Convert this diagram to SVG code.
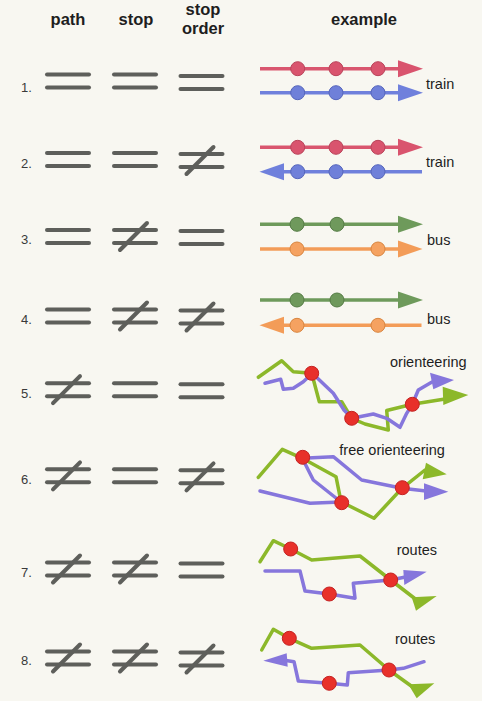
<svg xmlns="http://www.w3.org/2000/svg" xmlns:xlink="http://www.w3.org/1999/xlink" width="482" height="701" viewBox="0 0 482 701">
  <style>
    .head { font-family: "Liberation Sans", Arial, sans-serif; font-weight: bold; font-size: 16.5px; fill: #1e1e1e; text-anchor: middle; }
    .num { font-family: "Liberation Sans", Arial, sans-serif; font-size: 13px; fill: #3a3a3a; }
    .tag { font-family: "Liberation Sans", Arial, sans-serif; font-size: 14.5px; fill: #1e1e1e; }
    .bar { stroke: #5e5f5b; stroke-width: 4; stroke-linecap: round; fill: none; }
    .straight { stroke-width: 3.5; fill: none; }
    .route { stroke-width: 3.5; fill: none; stroke-linejoin: round; stroke-linecap: round; }
    .red { stroke: #d9566f; } .redf { fill: #d9546e; stroke: #b9445a; stroke-width: 1; }
    .blue { stroke: #6f80dc; } .bluef { fill: #6f80d9; stroke: #5565bb; stroke-width: 1; }
    .grn { stroke: #6e9a5b; } .grnf { fill: #6f995c; stroke: #557c45; stroke-width: 1; }
    .org { stroke: #f39c58; } .orgf { fill: #f5a261; stroke: #d8853f; stroke-width: 1; }
    .lime { stroke: #8cb82a; } .limef { fill: #8cb82a; }
    .purp { stroke: #8676dc; } .purpf { fill: #8676dc; }
    .stopdot { fill: #e8302a; stroke: #c42222; stroke-width: 1; }
  </style>
  <defs>
    <g id="eq">
      <line class="bar" x1="-21" y1="-6.5" x2="21" y2="-6.5"/>
      <line class="bar" x1="-21" y1="6.5" x2="21" y2="6.5"/>
    </g>
    <g id="neq">
      <use xlink:href="#eq"/>
      <line class="bar" x1="-15" y1="13.5" x2="12" y2="-13.5"/>
    </g>
  </defs>

  <rect width="482" height="701" fill="#f8f7f1"/>

  <!-- column headings -->
  <g id="headings">
    <text class="head" x="68" y="25">path</text>
    <text class="head" x="136" y="25">stop</text>
    <text class="head" x="203" y="15">stop</text>
    <text class="head" x="203" y="34">order</text>
    <text class="head" x="364" y="25">example</text>
  </g>

  <!-- comparison rows: path / stop / stop order -->
  <g id="row1">
    <text class="num" x="21" y="92">1.</text>
    <use xlink:href="#eq" x="68" y="81"/>
    <use xlink:href="#eq" x="135" y="81"/>
    <use xlink:href="#eq" x="201.5" y="82.5"/>
  </g>
  <g id="row2">
    <text class="num" x="21" y="168">2.</text>
    <use xlink:href="#eq" x="68" y="159.5"/>
    <use xlink:href="#eq" x="135" y="159.5"/>
    <use xlink:href="#neq" x="201.5" y="160.5"/>
  </g>
  <g id="row3">
    <text class="num" x="21" y="244">3.</text>
    <use xlink:href="#eq" x="68" y="236.5"/>
    <use xlink:href="#neq" x="135" y="236.5"/>
    <use xlink:href="#eq" x="201.5" y="237.5"/>
  </g>
  <g id="row4">
    <text class="num" x="21" y="324">4.</text>
    <use xlink:href="#eq" x="68" y="316"/>
    <use xlink:href="#neq" x="135" y="316"/>
    <use xlink:href="#neq" x="201.5" y="317"/>
  </g>
  <g id="row5">
    <text class="num" x="21" y="398">5.</text>
    <use xlink:href="#neq" x="68" y="389.7"/>
    <use xlink:href="#eq" x="135" y="389.7"/>
    <use xlink:href="#eq" x="201.5" y="390.7"/>
  </g>
  <g id="row6">
    <text class="num" x="21" y="484">6.</text>
    <use xlink:href="#neq" x="68" y="475.8"/>
    <use xlink:href="#eq" x="135" y="475.8"/>
    <use xlink:href="#neq" x="201.5" y="476.8"/>
  </g>
  <g id="row7">
    <text class="num" x="21" y="577">7.</text>
    <use xlink:href="#neq" x="68" y="569"/>
    <use xlink:href="#neq" x="135" y="569"/>
    <use xlink:href="#eq" x="201.5" y="570"/>
  </g>
  <g id="row8">
    <text class="num" x="21" y="665">8.</text>
    <use xlink:href="#neq" x="68" y="658"/>
    <use xlink:href="#neq" x="135" y="658"/>
    <use xlink:href="#neq" x="201.5" y="659"/>
  </g>

  <!-- examples -->
  <g id="ex1">
    <line class="straight red" x1="260" y1="68.7" x2="400" y2="68.7"/>
    <polygon fill="#d9546e" points="398,60.2 423,68.7 398,77.2"/>
    <circle class="redf" cx="297.7" cy="68.7" r="7"/>
    <circle class="redf" cx="336" cy="68.7" r="7"/>
    <circle class="redf" cx="378" cy="68.7" r="7"/>
    <line class="straight blue" x1="260" y1="92.7" x2="400" y2="92.7"/>
    <polygon fill="#6f80dc" points="398,84.2 423,92.7 398,101.2"/>
    <circle class="bluef" cx="297.7" cy="92.7" r="7"/>
    <circle class="bluef" cx="336" cy="92.7" r="7"/>
    <circle class="bluef" cx="378" cy="92.7" r="7"/>
    <text class="tag" x="426" y="89">train</text>
  </g>
  <g id="ex2">
    <line class="straight red" x1="260" y1="147.3" x2="400" y2="147.3"/>
    <polygon fill="#d9546e" points="398,138.8 423,147.3 398,155.8"/>
    <circle class="redf" cx="297.7" cy="147.3" r="7"/>
    <circle class="redf" cx="336" cy="147.3" r="7"/>
    <circle class="redf" cx="378" cy="147.3" r="7"/>
    <line class="straight blue" x1="282" y1="171.7" x2="422" y2="171.7"/>
    <polygon fill="#6f80dc" points="284,163.2 259.5,171.7 284,180.2"/>
    <circle class="bluef" cx="297.7" cy="171.7" r="7"/>
    <circle class="bluef" cx="336" cy="171.7" r="7"/>
    <circle class="bluef" cx="378" cy="171.7" r="7"/>
    <text class="tag" x="426" y="167">train</text>
  </g>
  <g id="ex3">
    <line class="straight grn" x1="260" y1="224.3" x2="400" y2="224.3"/>
    <polygon fill="#6e9a5b" points="398,215.8 423,224.3 398,232.8"/>
    <circle class="grnf" cx="297" cy="224.3" r="7"/>
    <circle class="grnf" cx="337" cy="224.3" r="7"/>
    <line class="straight org" x1="260" y1="249" x2="400" y2="249"/>
    <polygon fill="#f39c58" points="398,240.5 422.5,249 398,257.5"/>
    <circle class="orgf" cx="297" cy="249" r="7"/>
    <circle class="orgf" cx="378" cy="249" r="7"/>
    <text class="tag" x="427" y="245">bus</text>
  </g>
  <g id="ex4">
    <line class="straight grn" x1="260" y1="300" x2="400" y2="300"/>
    <polygon fill="#6e9a5b" points="398,291.5 423,300 398,308.5"/>
    <circle class="grnf" cx="297" cy="300" r="7"/>
    <circle class="grnf" cx="337" cy="300" r="7"/>
    <line class="straight org" x1="282" y1="325.3" x2="421.5" y2="325.3"/>
    <polygon fill="#f39c58" points="284,316.8 259.5,325.3 284,333.8"/>
    <circle class="orgf" cx="297" cy="325.3" r="7"/>
    <circle class="orgf" cx="378" cy="325.3" r="7"/>
    <text class="tag" x="427" y="324">bus</text>
  </g>
  <g id="ex5">
    <polyline class="route lime" points="258.3,377.3 281.7,360.7 293.3,371.7 311.7,373.3 319.3,401.7 341.7,401.7 351.7,418.3 365,424 388.3,430 386.7,410.5 412.3,404.3 445,399"/>
    <polygon class="limef" points="442.7,386.7 468.3,395 443.3,405"/>
    <polyline class="route purp" points="265,383.3 280.7,379.3 283.3,389.3 293.3,388.3 303.3,381.7 312.3,373.3 333.3,393.3 344,410 352,418.3 373.3,414 386.7,418.3 400,427.3 406.7,413.3 412.3,404.3 418.3,390 432,382"/>
    <polygon class="purpf" points="430,372.7 454,380 433.3,389.3"/>
    <circle class="stopdot" cx="311.7" cy="373.3" r="7"/>
    <circle class="stopdot" cx="351.7" cy="418.3" r="7"/>
    <circle class="stopdot" cx="412.3" cy="404.3" r="7"/>
    <text class="tag" x="390" y="367.3">orienteering</text>
  </g>
  <g id="ex6">
    <polyline class="route lime" points="258.3,477.3 282.3,449.3 302.3,458.3 336,476.7 341,501.7 374,518.3 402,488.3 425,470"/>
    <polygon class="limef" points="426,462.7 446.7,474.3 422.7,479.3"/>
    <polyline class="route purp" points="260,491 310,503.3 341,502 313.3,480 302.3,458.3 333.3,456.7 361.7,480 402,488.3 426,491"/>
    <polygon class="purpf" points="424,483.3 448.3,491.7 424,500"/>
    <circle class="stopdot" cx="302.7" cy="457.3" r="7"/>
    <circle class="stopdot" cx="341.7" cy="502.7" r="7"/>
    <circle class="stopdot" cx="402.3" cy="487.7" r="7"/>
    <text class="tag" x="339.3" y="455">free orienteering</text>
  </g>
  <g id="ex7">
    <polyline class="route lime" points="260,561.7 273.3,540.7 290.7,549 311.7,560 360,556 390.7,580 418,601"/>
    <polygon class="limef" points="411.7,597.3 436.7,596 416,610.7"/>
    <polyline class="route purp" points="265,571 300,571 305,591 329.3,594 355,598.3 353.3,583.3 390.7,580 406.7,576.7"/>
    <polygon class="purpf" points="403.3,570 426.7,571.7 404.3,585"/>
    <circle class="stopdot" cx="290.7" cy="549" r="7"/>
    <circle class="stopdot" cx="329.3" cy="594" r="7"/>
    <circle class="stopdot" cx="390.7" cy="580" r="7"/>
    <text class="tag" x="396.7" y="555">routes</text>
  </g>
  <g id="ex8">
    <polyline class="route lime" points="261.7,650 273.3,629.3 289.3,638.3 311.7,648.3 360,645 389,670 414,688"/>
    <polygon class="limef" points="408.3,684.3 434.3,683.3 416.7,698.3"/>
    <polyline class="route purp" points="424,661.7 403.3,668.3 389,670 348.3,672.7 347.3,685 329.3,683.3 298.3,681 294,661.7 286,660.5"/>
    <polygon class="purpf" points="286.7,653.3 263.3,660.7 287.7,666.7"/>
    <circle class="stopdot" cx="289.3" cy="638.3" r="7"/>
    <circle class="stopdot" cx="329.3" cy="683.3" r="7"/>
    <circle class="stopdot" cx="389" cy="670" r="7"/>
    <text class="tag" x="395" y="644">routes</text>
  </g>
</svg>
